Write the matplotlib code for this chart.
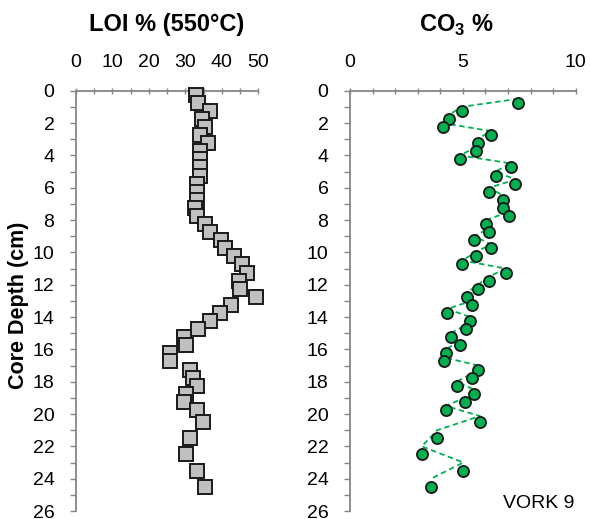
import numpy as np
import matplotlib
matplotlib.use("Agg")
import matplotlib.pyplot as plt
from matplotlib.ticker import MultipleLocator

plt.rcParams['font.family'] = ['Liberation Sans', 'DejaVu Sans']

# Sample depths (cm), mid-interval
depth = [0.25, 0.75, 1.25, 1.75, 2.25, 2.75, 3.25, 3.75, 4.25, 4.75,
         5.25, 5.75, 6.25, 6.75, 7.25, 7.75, 8.25, 8.75, 9.25, 9.75,
         10.25, 10.75, 11.25, 11.75, 12.25, 12.75, 13.25, 13.75, 14.25, 14.75,
         15.25, 15.75, 16.25, 16.75, 17.25, 17.75, 18.25, 18.75, 19.25, 19.75,
         20.5, 21.5, 22.5, 23.5, 24.5]

# LOI % (550 °C)
loi = [32.8, 33.5, 36.7, 34.5, 35.4, 34.0, 36.3, 34.0, 34.0, 34.0,
       34.0, 33.1, 33.1, 33.1, 32.6, 33.1, 35.4, 36.7, 39.8, 41.0,
       43.3, 45.5, 46.8, 44.7, 45.0, 49.5, 42.4, 39.5, 36.7, 33.5,
       29.6, 30.1, 25.8, 25.8, 31.4, 32.2, 33.1, 30.1, 29.6, 33.3,
       34.9, 31.4, 30.1, 33.3, 35.4]

# CO3 % (no value for the top sample)
co3 = [np.nan, 7.46, 4.96, 4.37, 4.11, 6.23, 5.66, 5.58, 4.87, 7.13,
       6.45, 7.33, 6.17, 6.79, 6.79, 7.03, 6.03, 6.17, 5.51, 6.23,
       5.58, 4.96, 6.90, 6.16, 5.67, 5.17, 5.39, 4.31, 5.32, 5.14,
       4.46, 4.87, 4.24, 4.17, 5.69, 5.39, 4.73, 5.51, 5.08, 4.24,
       5.76, 3.87, 3.18, 5.02, 3.59]

depth_arr = np.array(depth)
co3_arr = np.array(co3)
# two-point moving-average trendline (depth averaged over consecutive samples)
ma_depth = (depth_arr[:-1] + depth_arr[1:]) / 2.0
ma_x = co3_arr[1:]

W, H = 590, 519
fig = plt.figure(figsize=(W / 100, H / 100), dpi=100)

y0_px, y1_px = 90.7, 511.0
ax1 = fig.add_axes([76 / W, 1 - y1_px / H, (258.3 - 76) / W, (y1_px - y0_px) / H])
ax2 = fig.add_axes([350 / W, 1 - y1_px / H, (575.7 - 350) / W, (y1_px - y0_px) / H])

spine_col = '#868686'
for ax in (ax1, ax2):
    ax.set_ylim(26, 0)
    ax.yaxis.set_major_locator(MultipleLocator(2))
    ax.yaxis.set_minor_locator(MultipleLocator(1))
    ax.xaxis.tick_top()
    ax.xaxis.set_label_position('top')
    for s in ('right', 'bottom'):
        ax.spines[s].set_visible(False)
    for s in ('left', 'top'):
        ax.spines[s].set_color(spine_col)
        ax.spines[s].set_linewidth(1.3)
    ax.tick_params(axis='both', which='both', color=spine_col, width=1.0,
                   labelsize=14, labelcolor='black')
    ax.tick_params(axis='y', which='both', length=4, pad=11.5)
    ax.tick_params(axis='x', which='both', length=4, pad=12, direction='inout')
    ax.set_facecolor('none')

ax1.set_xlim(0, 50)
ax1.xaxis.set_major_locator(MultipleLocator(10))
ax1.xaxis.set_minor_locator(MultipleLocator(5))
ax2.set_xlim(0, 10)
ax2.xaxis.set_major_locator(MultipleLocator(5))
ax2.xaxis.set_minor_locator(MultipleLocator(1))

ax1.plot(loi, depth, linestyle='none', marker='s', markersize=9.5,
         markerfacecolor='#C0C0C0', markeredgecolor='#1a1a1a',
         markeredgewidth=1.4, clip_on=False, zorder=3)

ax2.plot(ma_x, ma_depth, linestyle=(0, (3, 2)), color='#00B050',
         linewidth=1.3, zorder=2)
ax2.plot(co3, depth, linestyle='none', marker='o', markersize=8,
         markerfacecolor='#00B050', markeredgecolor='#1a1a1a',
         markeredgewidth=1.3, clip_on=False, zorder=3)

fig.text(167 / W, 1 - 25 / H, 'LOI % (550°C)', ha='center', va='center',
         fontsize=17, fontweight='bold')
fig.text(456 / W, 1 - 25 / H, r'CO$_\mathregular{3}$ %', ha='center', va='center',
         fontsize=17, fontweight='bold')
fig.text(19 / W, 1 - 305 / H, 'Core Depth (cm)', ha='center', va='center',
         rotation=90, fontsize=15.5, fontweight='bold')
fig.text(539 / W, 1 - 503 / H, 'VORK 9', ha='center', va='center', fontsize=14)

fig.savefig('out.png', dpi=100)
